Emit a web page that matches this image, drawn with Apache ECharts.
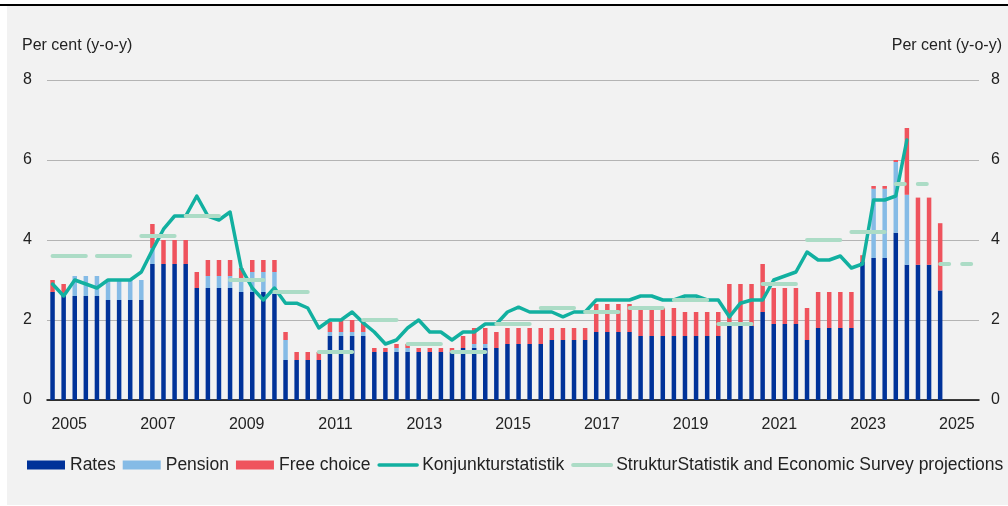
<!DOCTYPE html>
<html>
<head>
<meta charset="utf-8">
<script src="https://cdn.jsdelivr.net/npm/echarts@6/dist/echarts.min.js"></script>
<style>
html, body { margin: 0; padding: 0; background: #fff; }
#frame { position: absolute; left: 0; top: 0; width: 1008px; height: 506px; }
#panel { position: absolute; left: 7px; top: 6px; width: 1001px; height: 499px; background: #f2f2f2; }
#rule { position: absolute; left: 0; top: 4px; width: 1008px; height: 2px; background: #000; }
#chart { position: absolute; left: 0; top: 0; width: 1008px; height: 506px; }
</style>
</head>
<body>
<div id="frame">
  <div id="panel"></div>
  <div id="rule"></div>
  <div id="chart"></div>
</div>
<script>
// years shown on the axis (one band per year, four quarters each)
var years = ["2005", "2006", "2007", "2008", "2009", "2010", "2011", "2012", "2013", "2014",
  "2015", "2016", "2017", "2018", "2019", "2020", "2021", "2022", "2023", "2024", "2025"];

// quarterly contributions, 2005Q1 - 2025Q1
var rates = [2.7, 2.6, 2.6, 2.6, 2.6, 2.5, 2.5, 2.5, 2.5, 3.4, 3.4, 3.4, 3.4, 2.8, 2.8, 2.8,
  2.8, 2.7, 2.7, 2.7, 2.65, 1.0, 1.0, 1.0, 1.0, 1.6, 1.6, 1.6, 1.6, 1.2, 1.2, 1.2,
  1.2, 1.2, 1.2, 1.2, 1.2, 1.3, 1.3, 1.3, 1.3, 1.4, 1.4, 1.4, 1.4, 1.5, 1.5, 1.5,
  1.5, 1.7, 1.7, 1.7, 1.7, 1.6, 1.6, 1.6, 1.6, 1.6, 1.6, 1.6, 1.6, 1.85, 1.85, 1.85,
  2.2, 1.9, 1.9, 1.9, 1.5, 1.8, 1.8, 1.8, 1.8, 3.45, 3.55, 3.55, 4.18, 3.38, 3.38, 3.38,
  2.74];
var pension = [0, 0, 0.5, 0.5, 0.5, 0.5, 0.5, 0.5, 0.5, 0.4, 0, 0, 0, 0, 0.3, 0.3,
  0.3, 0.3, 0.5, 0.5, 0.55, 0.5, 0, 0, 0, 0.1, 0.1, 0.1, 0.1, 0, 0, 0.1,
  0.1, 0, 0, 0, 0, 0, 0.1, 0.1, 0, 0, 0, 0, 0, 0, 0, 0,
  0, 0, 0, 0, 0, 0, 0, 0, 0, 0, 0, 0, 0, 0, 0, 0,
  0, 0, 0, 0, 0, 0, 0, 0, 0, 0, 1.73, 1.73, 1.77, 1.75, 0, 0,
  0];
var freeChoice = [0.3, 0.3, 0, 0, 0, 0, 0, 0, 0, 0.6, 0.6, 0.6, 0.6, 0.4, 0.4, 0.4,
  0.4, 0.3, 0.3, 0.3, 0.3, 0.2, 0.2, 0.2, 0.2, 0.25, 0.3, 0.3, 0.25, 0.1, 0.1, 0.1,
  0.1, 0.1, 0.1, 0.1, 0.1, 0.3, 0.4, 0.4, 0.4, 0.4, 0.4, 0.4, 0.4, 0.3, 0.3, 0.3,
  0.3, 0.7, 0.7, 0.7, 0.7, 0.7, 0.7, 0.7, 0.7, 0.6, 0.6, 0.6, 0.6, 1.05, 1.05, 1.05,
  1.2, 0.9, 0.9, 0.9, 0.8, 0.9, 0.9, 0.9, 0.9, 0.17, 0.07, 0.07, 0.05, 1.67, 1.68, 1.68,
  1.68];

// Konjunkturstatistik, quarterly 2005Q1 - 2024Q2
var konjunktur = [2.9, 2.6, 3.0, 2.9, 2.8, 3.0, 3.0, 3.0, 3.2, 3.75, 4.27, 4.6, 4.6, 5.1, 4.6, 4.5,
  4.7, 3.3, 2.8, 2.5, 2.8, 2.42, 2.42, 2.3, 1.8, 2.0, 2.0, 2.2, 1.93, 1.7, 1.4, 1.5,
  1.8, 2.0, 1.7, 1.7, 1.5, 1.7, 1.7, 1.9, 1.9, 2.2, 2.32, 2.2, 2.2, 2.2, 2.08, 2.2,
  2.2, 2.5, 2.5, 2.5, 2.5, 2.6, 2.6, 2.5, 2.5, 2.6, 2.6, 2.5, 2.5, 2.08, 2.42, 2.5,
  2.5, 3.0, 3.1, 3.2, 3.7, 3.5, 3.5, 3.6, 3.3, 3.4, 5.0, 5.0, 5.1, 6.5];

// StrukturStatistik (annual) and Economic Survey projections
var strukturYears = ["2005", "2006", "2007", "2008", "2009", "2010", "2011", "2012", "2013", "2014",
  "2015", "2016", "2017", "2018", "2019", "2020", "2021", "2022", "2023"];
var strukturValues = [3.6, 3.6, 4.1, 4.6, 3.0, 2.7, 1.2, 2.0, 1.4, 1.2,
  1.9, 2.3, 2.2, 2.3, 2.5, 1.9, 2.9, 4.0, 4.2];
var projectionYears = ["2024", "2025"];
var projectionValues = [5.4, 3.4];

var quarters = [];
years.forEach(function (y) {
  ["Q1", "Q2", "Q3", "Q4"].forEach(function (q) { quarters.push(y + " " + q); });
});

// one flat segment per year, from the first to the last quarter, broken between years
function yearSegments(ys, vs) {
  var out = [];
  ys.forEach(function (y, i) {
    var k = years.indexOf(y);
    out.push([4 * k + 0.5, vs[i]]);
    out.push([4 * k + 3.5, vs[i]]);
    out.push([4 * k + 4, "-"]);
  });
  return out;
}

var FONT = "Liberation Sans, Arial, sans-serif";
var TXT = "#222";
var STRUKTUR = "StrukturStatistik and Economic Survey projections";
var TEAL = "#12b0a0";
var MINT = "#acdcc6";

var chart = echarts.init(document.getElementById("chart"), null, { renderer: "canvas" });
chart.setOption({
  animation: false,
  backgroundColor: "transparent",
  textStyle: { fontFamily: FONT },
  title: [
    { text: "Per cent (y-o-y)", left: 22, top: 38, padding: 0,
      textStyle: { fontFamily: FONT, fontSize: 16, fontWeight: "normal", color: TXT } },
    { text: "Per cent (y-o-y)", right: 6, top: 38, padding: 0,
      textStyle: { fontFamily: FONT, fontSize: 16, fontWeight: "normal", color: TXT } }
  ],
  grid: { left: 47, right: 29, top: 80, bottom: 106 },
  legend: {
    left: 27,
    top: 456,
    padding: 0,
    itemWidth: 38,
    itemHeight: 9,
    itemGap: 7,
    textStyle: { fontFamily: FONT, fontSize: 17.5, color: TXT },
    data: [
      { name: "Rates", icon: "rect" },
      { name: "Pension", icon: "rect" },
      { name: "Free choice", icon: "rect" },
      { name: "Konjunkturstatistik", itemStyle: { opacity: 0 },
        lineStyle: { color: TEAL, width: 3.5, cap: "round" } },
      { name: STRUKTUR, itemStyle: { opacity: 0 },
        lineStyle: { color: MINT, width: 4, cap: "round", type: "solid" } }
    ]
  },
  xAxis: [
    {
      type: "category",
      data: quarters,
      show: false
    },
    {
      type: "category",
      data: years,
      position: "bottom",
      axisLine: { lineStyle: { color: "#000", width: 1.5 } },
      axisTick: { interval: 0, length: 8, lineStyle: { color: "#000", width: 1.5 } },
      axisLabel: { interval: 1, margin: 17, fontSize: 16, color: TXT, fontFamily: FONT },
      splitLine: { show: false }
    },
    {
      type: "value",
      min: 0,
      max: 84,
      show: false
    }
  ],
  yAxis: [
    {
      type: "value",
      min: 0,
      max: 8,
      interval: 2,
      axisLine: { show: false },
      axisTick: { show: false },
      axisLabel: { margin: 15, fontSize: 16, color: TXT, fontFamily: FONT },
      splitLine: { lineStyle: { color: "#b4b4b4", width: 1.2 } }
    },
    {
      type: "value",
      min: 0,
      max: 8,
      interval: 2,
      position: "right",
      axisLine: { show: false },
      axisTick: { show: false },
      axisLabel: { margin: 12, fontSize: 16, color: TXT, fontFamily: FONT },
      splitLine: { show: false }
    }
  ],
  series: [
    {
      name: "Rates", type: "bar", stack: "total", xAxisIndex: 0, yAxisIndex: 0,
      barWidth: 4.5, data: rates, itemStyle: { color: "#003299" }
    },
    {
      name: "Pension", type: "bar", stack: "total", xAxisIndex: 0, yAxisIndex: 0,
      barWidth: 4.5, data: pension, itemStyle: { color: "#85bbe6" }
    },
    {
      name: "Free choice", type: "bar", stack: "total", xAxisIndex: 0, yAxisIndex: 0,
      barWidth: 4.5, data: freeChoice, itemStyle: { color: "#ef535d" }
    },
    {
      name: "Konjunkturstatistik", type: "line", xAxisIndex: 0, yAxisIndex: 0,
      data: konjunktur, symbol: "none", z: 5,
      itemStyle: { color: TEAL },
      lineStyle: { color: TEAL, width: 3.5, cap: "round", join: "round" }
    },
    {
      name: STRUKTUR, type: "line", xAxisIndex: 2, yAxisIndex: 0,
      data: yearSegments(strukturYears, strukturValues), symbol: "none", z: 6,
      connectNulls: false,
      itemStyle: { color: MINT },
      lineStyle: { color: MINT, width: 4, cap: "round" }
    },
    {
      name: STRUKTUR, type: "line", xAxisIndex: 2, yAxisIndex: 0,
      data: yearSegments(projectionYears, projectionValues), symbol: "none", z: 6,
      connectNulls: false,
      itemStyle: { color: MINT },
      lineStyle: { color: MINT, width: 4, cap: "round", type: [9, 13] }
    }
  ]
});
</script>
</body>
</html>
